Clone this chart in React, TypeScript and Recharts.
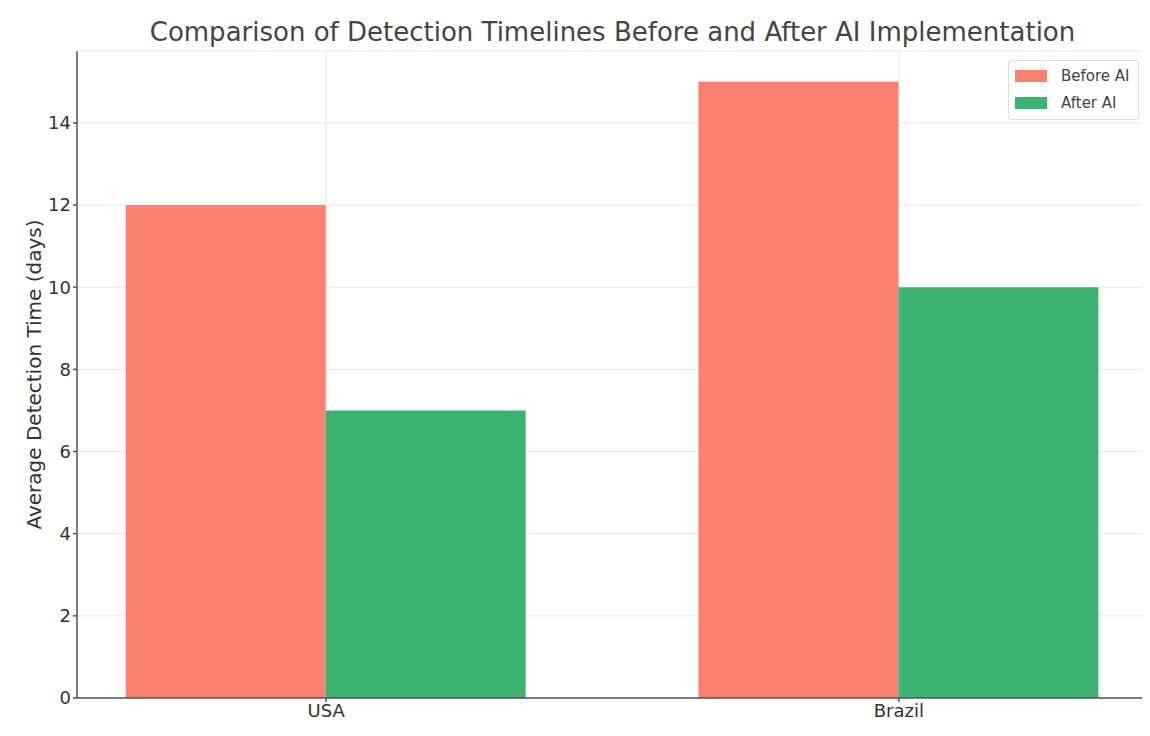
import React from 'react';
import { BarChart, Bar, XAxis, YAxis, CartesianGrid, Legend } from 'recharts';

const categories = ['USA', 'Brazil'];
const beforeAI = [12, 15];
const afterAI = [7, 10];
const yTicks = [0, 2, 4, 6, 8, 10, 12, 14];
const seriesNames = ['Before AI', 'After AI'];
const seriesColors = ['#FA8072', '#3CB371'];

const data = categories.map((c, i) => ({ pos: i, name: c, before: beforeAI[i], after: afterAI[i] }));

const FONT = '"DejaVu Sans", Verdana, sans-serif';

const LegendBox = () => (
  <div
    style={{
      border: '1px solid #dddddd',
      borderRadius: 3,
      background: 'rgba(255,255,255,0.9)',
      padding: '1px 4px 4px 6px',
      fontFamily: FONT,
      fontSize: 15,
      color: '#444',
      width: 131,
      height: 60,
      boxSizing: 'border-box',
      whiteSpace: 'nowrap',
    }}
  >
    {seriesNames.map((n, i) => (
      <div key={n} style={{ display: 'flex', alignItems: 'center', height: 27 }}>
        <span style={{ display: 'inline-block', width: 32, height: 12, background: seriesColors[i], marginRight: 14, flex: 'none' }} />
        <span>{n}</span>
      </div>
    ))}
  </div>
);

export default function App() {
  return (
    <div style={{ position: 'relative', width: 1150, height: 736, margin: '-8px 0 0 -8px', background: '#fff', borderTop: 'none' }}>
      <div
        style={{
          position: 'absolute',
          top: 15,
          left: 77,
          width: 1071,
          textAlign: 'center',
          fontFamily: FONT,
          fontSize: 26,
          color: '#444',
          lineHeight: '34px',
          zIndex: 2,
          whiteSpace: 'nowrap',
        }}
      >
        Comparison of Detection Timelines Before and After AI Implementation
      </div>
      <BarChart
        width={1150}
        height={736}
        data={data}
        margin={{ top: 51, right: 2, bottom: 8, left: 27 }}
        barCategoryGap="15%"
        barGap={0}
      >
        <CartesianGrid stroke="#e6e6e6" strokeWidth={1} />
        <XAxis
          dataKey="pos"
          type="number"
          domain={[-0.435, 1.435]}
          allowDataOverflow
          ticks={[0, 1]}
          tickFormatter={(v: number) => categories[v] ?? ''}
          height={30}
          stroke="#555"
          strokeWidth={1.5}
          tickSize={4}
          tick={{ fill: '#333', fontSize: 18, fontFamily: FONT }}
          interval={0}
        />
        <YAxis
          type="number"
          domain={[0, 15.75]}
          ticks={yTicks}
          width={50}
          stroke="#555"
          strokeWidth={1.5}
          tickSize={4}
          tick={{ fill: '#333', fontSize: 18, fontFamily: FONT }}
          label={{
            value: 'Average Detection Time (days)',
            angle: -90,
            position: 'insideLeft',
            dx: 2,
            style: { textAnchor: 'middle', fill: '#333', fontSize: 20, fontFamily: FONT },
          }}
        />
        <Legend
          layout="horizontal"
          verticalAlign="middle"
          align="center"
          content={() => <LegendBox />}
          wrapperStyle={{ top: 60, left: 1008, right: 'auto', bottom: 'auto', width: 131, height: 60 }}
        />
        <Bar dataKey="before" name={seriesNames[0]} fill={seriesColors[0]} isAnimationActive={false} />
        <Bar dataKey="after" name={seriesNames[1]} fill={seriesColors[1]} isAnimationActive={false} />
      </BarChart>
      <div style={{ position: 'absolute', top: 5, left: 8, width: 1142, height: 0, borderTop: '3px solid #666', zIndex: 10 }} />
    </div>
  );
}
